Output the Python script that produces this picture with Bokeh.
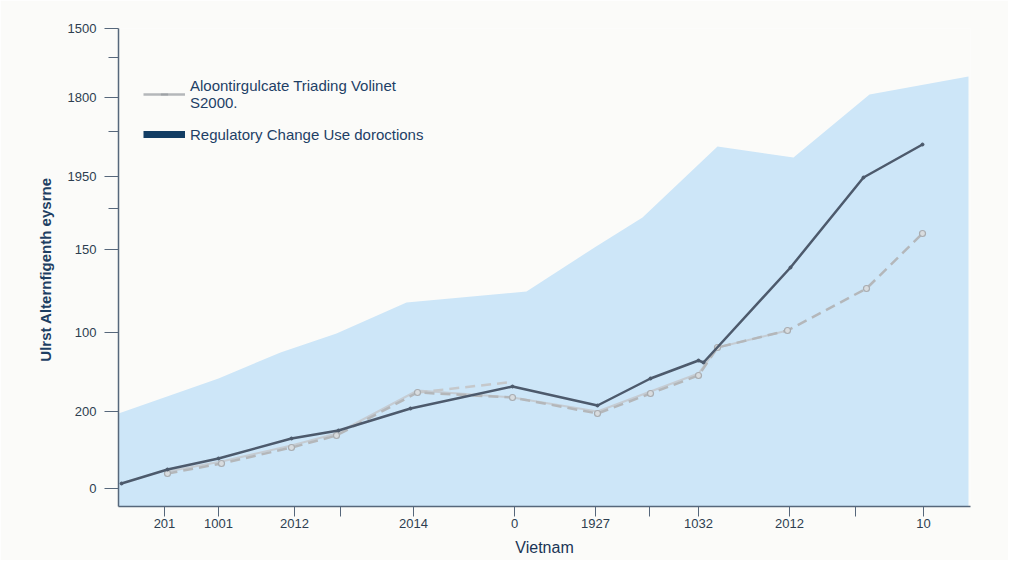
from bokeh.plotting import figure
from bokeh.models import Range1d, FixedTicker, Legend, LegendItem
from bokeh.embed import file_html
from bokeh.resources import INLINE

# ---- data (chart units) ----
area_x = [0, 100, 162, 218, 288, 408, 476, 524, 599, 675, 751, 850]
area_y = [93, 128, 154, 173, 204, 215, 259, 289, 360, 349, 412, 430]

reg_x = [3, 49, 100, 173, 220, 292, 394, 479, 532, 580, 585, 672, 745, 804]
reg_y = [23, 37, 48, 68, 76, 98, 120, 101, 128, 146, 144, 239, 329, 362]

vol_x = [49, 103, 173, 218, 299, 394, 479, 532, 580, 599, 669, 748, 804]
vol_y = [33, 43, 59, 71, 114, 109, 93, 113, 131, 159, 176, 218, 273]

vol_soft_x = [49, 103, 173, 218, 299, 394, 479, 532, 580, 599, 669]
vol_soft_y = [35, 45, 61, 73, 116, 109, 95, 115, 133, 159, 176]

vol_spur_x = [299, 389]
vol_spur_y = [114, 124]

y_ticks = [18, 95, 174, 257, 330, 409, 478]
y_labels = ["0", "200", "100", "150", "1950", "1800", "1500"]
y_minor = [298, 375, 449]

x_ticks = [46, 100, 176, 222, 295, 396, 477, 531, 580, 671, 737, 805]
x_labels = ["201", "1001", "2012", "", "2014", "0", "1927", "", "1032", "2012", "", "10"]

FONT = "Liberation Sans"
BG = "#fbfbf9"
AXIS = "#56677b"

p = figure(width=1008, height=560, output_backend="svg", toolbar_location=None,
           x_range=Range1d(0, 852), y_range=Range1d(0, 478),
           min_border_left=118, min_border_right=38, min_border_top=28, min_border_bottom=54)
p.background_fill_color = BG
p.border_fill_color = BG
p.outline_line_color = None
p.xgrid.grid_line_color = None
p.ygrid.grid_line_color = None

# area
p.varea(x=area_x, y1=0, y2=area_y, fill_color="#cde6f8", fill_alpha=1.0)

# volume lines
p.line(vol_soft_x, vol_soft_y, line_color="#c3c6c9", line_width=2, line_alpha=0.8)
p.line(vol_spur_x, vol_spur_y, line_color="#c5c8cb", line_width=2.5, line_dash="10 6")
p.line(vol_x, vol_y, line_color="#b4b7ba", line_width=2.5, line_dash="10 6")
p.scatter(vol_x, vol_y, size=6, marker="circle", fill_color="#d8dcdf", line_color="#a9adb1", line_width=1.2)

# regulatory line
p.line(reg_x, reg_y, line_color="#4d5a6c", line_width=2.5)
p.scatter(reg_x, reg_y, size=3, marker="circle", fill_color="#4d5a6c", line_color="#4d5a6c")

# legend proxies (drawn outside the visible range)
OFF_X = [-200, -190]
OFF_Y = [-200, -200]
leg_vol_line = p.line(x=OFF_X, y=OFF_Y, line_color="#b4b7ba", line_width=2.5)
leg_vol_mark = p.scatter(x=OFF_X[:1], y=OFF_Y[:1], marker="dash", angle=1.5708, size=8,
                         line_color="#9ea2a6", line_width=2)
leg_reg = p.line(x=OFF_X, y=OFF_Y, line_color="#123d64", line_width=7)

legend = Legend(items=[
    LegendItem(label="Aloontirgulcate Triading Volinet\nS2000.", renderers=[leg_vol_line, leg_vol_mark]),
    LegendItem(label="Regulatory Change Use doroctions", renderers=[leg_reg]),
], location=(25, 363))
legend.background_fill_alpha = 0
legend.border_line_alpha = 0
legend.padding = 0
legend.margin = 0
legend.spacing = 14
legend.glyph_width = 42
legend.glyph_height = 18
legend.label_standoff = 5
legend.label_text_font = FONT
legend.label_text_font_size = "15px"
legend.label_text_color = "#1e3f66"
p.add_layout(legend, "center")

# axes
yax = p.yaxis[0]
yax.ticker = FixedTicker(ticks=y_ticks, minor_ticks=y_minor)
yax.major_label_overrides = {t: l for t, l in zip(y_ticks, y_labels)}
yax.axis_label = "Ulrst  Alternfigenth eysrne"
yax.axis_label_text_font = FONT
yax.axis_label_text_font_size = "15px"
yax.axis_label_text_font_style = "bold"
yax.axis_label_text_color = "#1e3f63"
yax.axis_label_standoff = 11

xax = p.xaxis[0]
xax.ticker = FixedTicker(ticks=x_ticks, minor_ticks=[])
xax.major_label_overrides = {t: l for t, l in zip(x_ticks, x_labels)}
xax.axis_label = "Vietnam"
xax.axis_label_text_font = FONT
xax.axis_label_text_font_size = "16px"
xax.axis_label_text_font_style = "normal"
xax.axis_label_text_color = "#1a3556"
xax.axis_label_standoff = 8

for ax in (xax, yax):
    ax.axis_line_color = AXIS
    ax.axis_line_width = 1.5
    ax.major_tick_line_color = AXIS
    ax.minor_tick_line_color = AXIS
    ax.major_tick_in = 0
    ax.minor_tick_in = 0
    ax.major_label_text_font = FONT
    ax.major_label_text_font_size = "13px"
    ax.major_label_text_color = "#2d3e50"
xax.major_tick_out = 10
yax.major_tick_out = 14
yax.minor_tick_out = 10
yax.major_label_standoff = 8
xax.major_label_standoff = 2

open("out.html", "w").write(file_html(p, INLINE))
